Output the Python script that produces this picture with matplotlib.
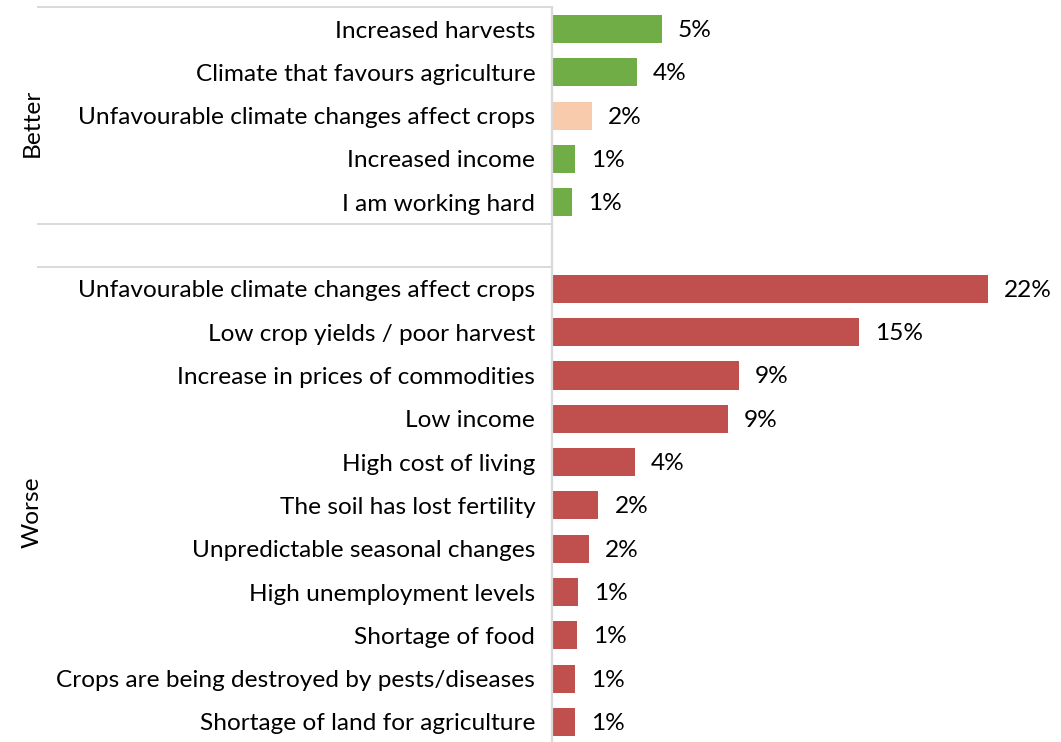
import matplotlib
matplotlib.use("Agg")
import matplotlib.pyplot as plt

plt.rcParams['font.family'] = ['Lato', 'DejaVu Sans']

better_labels = ["Increased harvests", "Climate that favours agriculture",
                 "Unfavourable climate changes affect crops", "Increased income",
                 "I am working hard"]
better_values = [5.45, 4.2, 2.0, 1.15, 1.0]
better_colors = ["#70AD47", "#70AD47", "#F8CBAD", "#70AD47", "#70AD47"]

worse_labels = ["Unfavourable climate changes affect crops", "Low crop yields / poor harvest",
                "Increase in prices of commodities", "Low income", "High cost of living",
                "The soil has lost fertility", "Unpredictable seasonal changes",
                "High unemployment levels", "Shortage of food",
                "Crops are being destroyed by pests/diseases", "Shortage of land for agriculture"]
worse_values = [21.6, 15.2, 9.25, 8.7, 4.1, 2.3, 1.85, 1.3, 1.25, 1.15, 1.15]
worse_color = "#C0504D"

groups = ["Better", "Worse"]

FS = 17.6

W, H = 1061, 742
fig = plt.figure(figsize=(W / 100, H / 100), dpi=100)
ax_left = 552 / W
ax_w = 509 / W
top_px, bot_px = 7.4, 743.6
ax = fig.add_axes([ax_left, 1 - bot_px / H, ax_w, (bot_px - top_px) / H])

labels = better_labels + [""] + worse_labels
values = better_values + [0] + worse_values
colors = better_colors + ["none"] + [worse_color] * len(worse_values)
ypos = list(range(len(labels)))

for y, v, c in zip(ypos, values, colors):
    if c == "none":
        continue
    ax.barh(y, v, height=0.65, color=c, edgecolor="none")
    ax.annotate(f"{round(v):.0f}%", xy=(v, y), xytext=(11.5, -1), textcoords="offset points",
                va="center", ha="left", fontsize=FS, color="#000000")

ax.set_ylim(len(labels) - 0.5, -0.5)
ax.set_xlim(0, 25.2)
ax.set_yticks(ypos)
ax.set_yticklabels(labels, fontsize=FS)
ax.tick_params(axis="y", length=0, pad=12)
ax.set_xticks([])
for s in ["top", "right", "bottom"]:
    ax.spines[s].set_visible(False)
ax.spines["left"].set_color("#D9D9D9")
ax.spines["left"].set_linewidth(1.6)

trans = ax.get_yaxis_transform()
x0 = (38 - 552) / 509
for yl in [-0.5, 4.5, 5.5]:
    ax.plot([x0, 0], [yl, yl], transform=trans, color="#D9D9D9", lw=1.4, clip_on=False)

ax.text(32 / W, 1 - 123 / H, groups[0], transform=fig.transFigure, rotation=90,
        ha="center", va="center", fontsize=FS)
ax.text(32 / W, 1 - 512 / H, groups[1], transform=fig.transFigure, rotation=90,
        ha="center", va="center", fontsize=FS)

fig.savefig("out.png", dpi=100)
